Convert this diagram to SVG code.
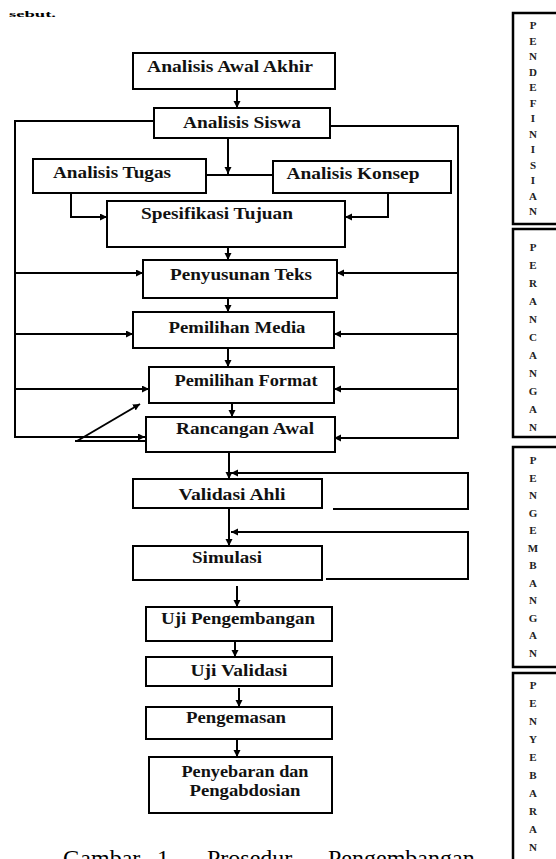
<svg xmlns="http://www.w3.org/2000/svg" width="556" height="859" viewBox="0 0 556 859">
<defs>
<marker id="ah" markerUnits="userSpaceOnUse" markerWidth="8" markerHeight="8" refX="7" refY="3.5" orient="auto">
<path d="M0,0 L7,3.5 L0,7 z" fill="#000"/>
</marker>
<style>
.box{fill:#fff;stroke:#000;stroke-width:2}
.lbl{font-family:"Liberation Serif","Times New Roman",serif;font-weight:bold;font-size:16px;fill:#111;text-anchor:middle}
.ln{fill:none;stroke:#000;stroke-width:2}
.ar{fill:none;stroke:#000;stroke-width:2;marker-end:url(#ah)}
.stg{fill:none;stroke:#000;stroke-width:2.5}
.let{font-family:"Liberation Serif","Times New Roman",serif;font-weight:bold;font-size:11px;fill:#222;text-anchor:middle}
.cap{font-family:"Liberation Serif","Times New Roman",serif;font-size:24px;fill:#000}
</style>
</defs>
<rect width="556" height="859" fill="#fff"/>
<text x="9" y="17" font-family="Liberation Serif, serif" font-weight="bold" font-size="9" textLength="47" lengthAdjust="spacingAndGlyphs">sebut.</text>

<g id="connectors">
<path class="ar" d="M237,89 V108"/>
<path class="ar" d="M228,138 V174"/>
<path class="ln" d="M206,175 H273"/>
<path class="ar" d="M71,193 V217 H107"/>
<path class="ar" d="M388,193 V217 H345"/>
<path class="ar" d="M228,247 V260"/>
<path class="ar" d="M154,121 H15 V437 H145"/>
<path class="ar" d="M330,126 H458 V438 H334"/>
<path class="ar" d="M15,273 H143"/>
<path class="ar" d="M15,334 H133"/>
<path class="ar" d="M15,389 H149"/>
<path class="ln" d="M20,389 H107" stroke-width="3.5"/>
<path class="ar" d="M458,273 H337"/>
<path class="ar" d="M458,334 H334"/>
<path class="ar" d="M458,389 H334"/>
<path class="ar" d="M228,298 V312"/>
<path class="ar" d="M228,348 V367"/>
<path class="ar" d="M232,403 V417"/>
<path class="ln" d="M75,441 H145"/>
<path class="ar" d="M77,441 L140,404"/>
<path class="ar" d="M229,452 V479"/>
<path class="ar" d="M333,509 H468 V473 H231"/>
<path class="ar" d="M229,508 V546"/>
<path class="ar" d="M326,579 H468 V532 H231"/>
<path class="ar" d="M237,586 V607"/>
<path class="ar" d="M235,641 V657"/>
<path class="ar" d="M239,688 V707"/>
<path class="ar" d="M237,737 V757"/>
</g>

<g id="analisis-awal-akhir"><rect class="box" x="133" y="53" width="202" height="36"/><text class="lbl" x="230" y="72" textLength="166" lengthAdjust="spacingAndGlyphs">Analisis Awal Akhir</text></g>
<g id="analisis-siswa"><rect class="box" x="154" y="108" width="176" height="30"/><text class="lbl" x="242" y="128" textLength="118" lengthAdjust="spacingAndGlyphs">Analisis Siswa</text></g>
<g id="analisis-tugas"><rect class="box" x="33" y="159" width="173" height="34"/><text class="lbl" x="112" y="178" textLength="118" lengthAdjust="spacingAndGlyphs">Analisis Tugas</text></g>
<g id="analisis-konsep"><rect class="box" x="273" y="161" width="178" height="32"/><text class="lbl" x="353" y="179" textLength="133" lengthAdjust="spacingAndGlyphs">Analisis Konsep</text></g>
<g id="spesifikasi-tujuan"><rect class="box" x="107" y="201" width="238" height="46"/><text class="lbl" x="217" y="219" textLength="152" lengthAdjust="spacingAndGlyphs">Spesifikasi Tujuan</text></g>
<g id="penyusunan-teks"><rect class="box" x="143" y="260" width="194" height="38"/><text class="lbl" x="241" y="280" textLength="142" lengthAdjust="spacingAndGlyphs">Penyusunan Teks</text></g>
<g id="pemilihan-media"><rect class="box" x="133" y="312" width="201" height="36"/><text class="lbl" x="237" y="333" textLength="137" lengthAdjust="spacingAndGlyphs">Pemilihan Media</text></g>
<g id="pemilihan-format"><rect class="box" x="149" y="367" width="185" height="36"/><text class="lbl" x="246" y="386" textLength="143" lengthAdjust="spacingAndGlyphs">Pemilihan Format</text></g>
<g id="rancangan-awal"><rect class="box" x="146" y="417" width="189" height="35"/><text class="lbl" x="245" y="434" textLength="138" lengthAdjust="spacingAndGlyphs">Rancangan Awal</text></g>
<g id="validasi-ahli"><rect class="box" x="133" y="479" width="189" height="29"/><text class="lbl" x="232" y="500" textLength="107" lengthAdjust="spacingAndGlyphs">Validasi Ahli</text></g>
<g id="simulasi"><rect class="box" x="133" y="546" width="189" height="34"/><text class="lbl" x="227" y="563" textLength="70" lengthAdjust="spacingAndGlyphs">Simulasi</text></g>
<g id="uji-pengembangan"><rect class="box" x="146" y="607" width="186" height="34"/><text class="lbl" x="238" y="624" textLength="154" lengthAdjust="spacingAndGlyphs">Uji Pengembangan</text></g>
<g id="uji-validasi"><rect class="box" x="146" y="657" width="186" height="29"/><text class="lbl" x="239" y="676" textLength="97" lengthAdjust="spacingAndGlyphs">Uji Validasi</text></g>
<g id="pengemasan"><rect class="box" x="146" y="707" width="186" height="32"/><text class="lbl" x="236" y="723" textLength="100" lengthAdjust="spacingAndGlyphs">Pengemasan</text></g>
<g id="penyebaran"><rect class="box" x="149" y="757" width="183" height="56"/><text class="lbl" x="245" y="777" textLength="127" lengthAdjust="spacingAndGlyphs">Penyebaran dan</text><text class="lbl" x="245" y="796" textLength="111" lengthAdjust="spacingAndGlyphs">Pengabdosian</text></g>

<g id="stage-pendefinisian">
<path class="stg" d="M558,13 H513 V224 H558"/>
<text class="let" x="533" y="29">P</text><text class="let" x="533" y="44.5">E</text><text class="let" x="533" y="60">N</text><text class="let" x="533" y="75.5">D</text><text class="let" x="533" y="91">E</text><text class="let" x="533" y="106.5">F</text><text class="let" x="533" y="122">I</text><text class="let" x="533" y="137.5">N</text><text class="let" x="533" y="153">I</text><text class="let" x="533" y="168.5">S</text><text class="let" x="533" y="184">I</text><text class="let" x="533" y="199.5">A</text><text class="let" x="533" y="215">N</text>
</g>
<g id="stage-perancangan">
<path class="stg" d="M558,229 H513 V437 H558"/>
<text class="let" x="533" y="251">P</text><text class="let" x="533" y="269">E</text><text class="let" x="533" y="287">R</text><text class="let" x="533" y="305">A</text><text class="let" x="533" y="323">N</text><text class="let" x="533" y="341">C</text><text class="let" x="533" y="359">A</text><text class="let" x="533" y="377">N</text><text class="let" x="533" y="395">G</text><text class="let" x="533" y="413">A</text><text class="let" x="533" y="431">N</text>
</g>
<g id="stage-pengembangan">
<path class="stg" d="M558,447 H513 V667 H558"/>
<text class="let" x="533" y="464">P</text><text class="let" x="533" y="481.5">E</text><text class="let" x="533" y="499">N</text><text class="let" x="533" y="516.5">G</text><text class="let" x="533" y="534">E</text><text class="let" x="533" y="551.5">M</text><text class="let" x="533" y="569">B</text><text class="let" x="533" y="586.5">A</text><text class="let" x="533" y="604">N</text><text class="let" x="533" y="621.5">G</text><text class="let" x="533" y="639">A</text><text class="let" x="533" y="656.5">N</text>
</g>
<g id="stage-penyebaran">
<path class="stg" d="M558,673 H513 V862"/>
<text class="let" x="533" y="689">P</text><text class="let" x="533" y="707">E</text><text class="let" x="533" y="725">N</text><text class="let" x="533" y="743">Y</text><text class="let" x="533" y="761">E</text><text class="let" x="533" y="779">B</text><text class="let" x="533" y="797">A</text><text class="let" x="533" y="815">R</text><text class="let" x="533" y="833">A</text><text class="let" x="533" y="851">N</text>
</g>

<g id="caption">
<text class="cap" x="63" y="866">Gambar</text>
<text class="cap" x="157" y="866">1.</text>
<text class="cap" x="207" y="866">Prosedur</text>
<text class="cap" x="328" y="866">Pengembangan</text>
</g>
</svg>
